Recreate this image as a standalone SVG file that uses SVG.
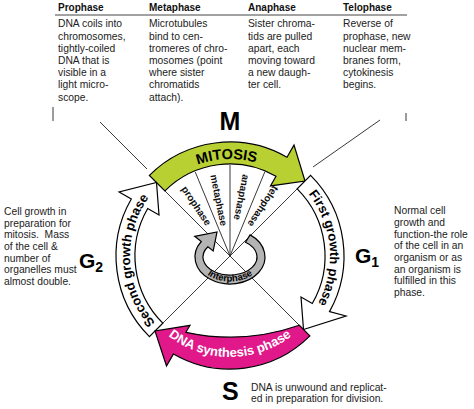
<svg xmlns="http://www.w3.org/2000/svg" width="474" height="409" viewBox="0 0 474 409">
<defs>
<style>
.body{font-family:"Liberation Sans",Arial,Helvetica,sans-serif;font-size:10.3px;fill:#222}
.hdr{font-family:"Liberation Sans",Arial,Helvetica,sans-serif;font-size:10px;font-weight:bold;fill:#111}
.big{font-family:"Liberation Sans",Arial,Helvetica,sans-serif;font-weight:bold;fill:#000}
.band{font-family:"Liberation Sans",Arial,Helvetica,sans-serif;font-size:13px;font-weight:bold;fill:#000}
.fan{font-family:"Liberation Sans",Arial,Helvetica,sans-serif;font-size:10px;font-weight:bold;fill:#111}
.ln{stroke:#222;stroke-width:0.9;fill:none}
.arr{stroke:#000;stroke-width:1.2;stroke-linejoin:miter}
</style>
<path id="pMit" d="M 144.35 210.46 A 97 97 0 0 1 312.26 204.6"/>
<path id="pG1" d="M 280 169.4 A 100 100 0 0 1 294.3 332.6"/>
<path id="pG2" d="M 177 340.8 A 100 100 0 0 1 168.43 177.2"/>
<path id="pS" d="M 135.1 290.5 A 101 101 0 0 0 324.9 290.5"/>
<path id="pInt" d="M 197 257 A 33 24.5 0 0 0 263 257"/>
</defs>
<rect width="474" height="409" fill="#fff"/>

<g id="table">
<line x1="55" y1="15" x2="407" y2="15" stroke="#444" stroke-width="1"/>
<text class="hdr" x="58" y="10.5">Prophase</text>
<text class="hdr" x="149" y="10.5">Metaphase</text>
<text class="hdr" x="248" y="10.5">Anaphase</text>
<text class="hdr" x="343" y="10.5">Telophase</text>
<text class="body" x="58" y="27.3"><tspan x="58">DNA coils into</tspan><tspan x="58" dy="12.2">chromosomes,</tspan><tspan x="58" dy="12.2">tightly-coiled</tspan><tspan x="58" dy="12.2">DNA that is</tspan><tspan x="58" dy="12.2">visible in a</tspan><tspan x="58" dy="12.2">light micro-</tspan><tspan x="58" dy="12.2">scope.</tspan></text>
<text class="body" x="149" y="27.3"><tspan x="149">Microtubules</tspan><tspan x="149" dy="12.2">bind to cen-</tspan><tspan x="149" dy="12.2">tromeres of chro-</tspan><tspan x="149" dy="12.2">mosomes (point</tspan><tspan x="149" dy="12.2">where sister</tspan><tspan x="149" dy="12.2">chromatids</tspan><tspan x="149" dy="12.2">attach).</tspan></text>
<text class="body" x="248" y="27.3"><tspan x="248">Sister chroma-</tspan><tspan x="248" dy="12.2">tids are pulled</tspan><tspan x="248" dy="12.2">apart, each</tspan><tspan x="248" dy="12.2">moving toward</tspan><tspan x="248" dy="12.2">a new daugh-</tspan><tspan x="248" dy="12.2">ter cell.</tspan></text>
<text class="body" x="343" y="27.3"><tspan x="343">Reverse of</tspan><tspan x="343" dy="12.2">prophase, new</tspan><tspan x="343" dy="12.2">nuclear mem-</tspan><tspan x="343" dy="12.2">branes form,</tspan><tspan x="343" dy="12.2">cytokinesis</tspan><tspan x="343" dy="12.2">begins.</tspan></text>
</g>

<g id="connectors">
<line class="ln" x1="53" y1="107" x2="53" y2="121"/>
<line class="ln" x1="406" y1="113" x2="406" y2="121"/>
<line class="ln" x1="100" y1="122" x2="147" y2="169"/>
<line class="ln" x1="380" y1="120" x2="313" y2="167"/>
<line class="ln" x1="164.9" y1="190.9" x2="299.3" y2="325.3"/>
<line class="ln" x1="297.2" y1="188.8" x2="162.8" y2="323.2"/>
<line class="ln" x1="230" y1="256" x2="195.2" y2="171.9"/>
<line class="ln" x1="230" y1="256" x2="230" y2="165"/>
<line class="ln" x1="230" y1="256" x2="264.8" y2="171.9"/>
</g>

<g id="mitosis">
<path class="arr" fill="#b9d033" d="M 149.4 175.4 A 114 114 0 0 1 287 157.3 L 294 145.1 L 305 181 L 270.5 185.9 L 276 176.3 A 92 92 0 0 0 164.9 190.9 Z"/>
<text class="big" font-size="14.5" text-anchor="middle"><textPath href="#pMit" startOffset="50%">MITOSIS</textPath></text>
</g>

<g id="phases">
<text class="fan" transform="translate(183.9 187) rotate(56.25)" y="3.5">prophase</text>
<text class="fan" transform="translate(213.8 174.6) rotate(78.75)" y="3.5">metaphase</text>
<text class="fan" transform="translate(246.2 174.6) rotate(101.25)" y="3.5">anaphase</text>
<text class="fan" transform="translate(276.1 187) rotate(123.75)" y="3.5">telophase</text>
</g>

<g id="g1">
<path class="arr" fill="#fff" d="M 310.6 175.4 A 114 114 0 0 1 329.5 311.6 L 346 316 L 303.5 329.5 L 301 297 L 312.3 303.5 A 95 95 0 0 0 297.2 188.8 Z"/>
<text class="band" text-anchor="middle"><textPath href="#pG1" startOffset="50%">First growth phase</textPath></text>
</g>

<g id="g2">
<path class="arr" fill="#fff" d="M 149.4 336.6 A 114 114 0 0 1 131.3 199 L 119.1 192 L 156.5 182.5 L 159 215 L 147.7 208.5 A 95 95 0 0 0 162.8 323.2 Z"/>
<text class="band" text-anchor="middle"><textPath href="#pG2" startOffset="50%">Second growth phase</textPath></text>
</g>

<g id="s">
<path class="arr" fill="#e0188a" d="M 309.9 335.9 A 113 113 0 0 1 173.5 353.9 L 166.5 366 L 155 331 L 190 325.3 L 185.9 332.3 A 210 210 0 0 0 299.3 325.3 Z"/>
<text class="band" style="fill:#fff" text-anchor="middle"><textPath href="#pS" startOffset="50%">DNA synthesis phase</textPath></text>
</g>

<g id="interphase">
<path class="arr" fill="#b4b4b4" d="M 201.3 241.5 A 35 27 0 1 0 250.1 234.9 L 245.5 242.3 A 27 18 0 1 1 207.9 246.7 L 213.2 250.9 L 217 232 L 194.7 236.3 Z"/>
<text class="big" font-size="9.5" text-anchor="middle"><textPath href="#pInt" startOffset="50%">Interphase</textPath></text>
</g>

<g id="labels">
<text class="big" font-size="25" x="230" y="130" text-anchor="middle">M</text>
<text class="big" font-size="21" x="79" y="268">G<tspan font-size="14" dy="4">2</tspan></text>
<text class="big" font-size="21" x="355" y="263">G<tspan font-size="14" dy="4">1</tspan></text>
<text class="big" font-size="25" x="222" y="400">S</text>
</g>

<g id="notes">
<text class="body" x="4" y="215"><tspan x="4">Cell growth in</tspan><tspan x="4" dy="11.67">preparation for</tspan><tspan x="4" dy="11.67">mitosis.&#160; Mass</tspan><tspan x="4" dy="11.67">of the cell &amp;</tspan><tspan x="4" dy="11.67">number of</tspan><tspan x="4" dy="11.67">organelles must</tspan><tspan x="4" dy="11.67">almost double.</tspan></text>
<text class="body" x="394" y="214.3"><tspan x="394">Normal cell</tspan><tspan x="394" dy="11.67">growth and</tspan><tspan x="394" dy="11.67">function-the role</tspan><tspan x="394" dy="11.67">of the cell in an</tspan><tspan x="394" dy="11.67">organism or as</tspan><tspan x="394" dy="11.67">an organism is</tspan><tspan x="394" dy="11.67">fulfilled in this</tspan><tspan x="394" dy="11.67">phase.</tspan></text>
<text class="body" x="251" y="390.7"><tspan x="251">DNA is unwound and replicat-</tspan><tspan x="251" dy="11.3">ed in preparation for division.</tspan></text>
</g>
</svg>
